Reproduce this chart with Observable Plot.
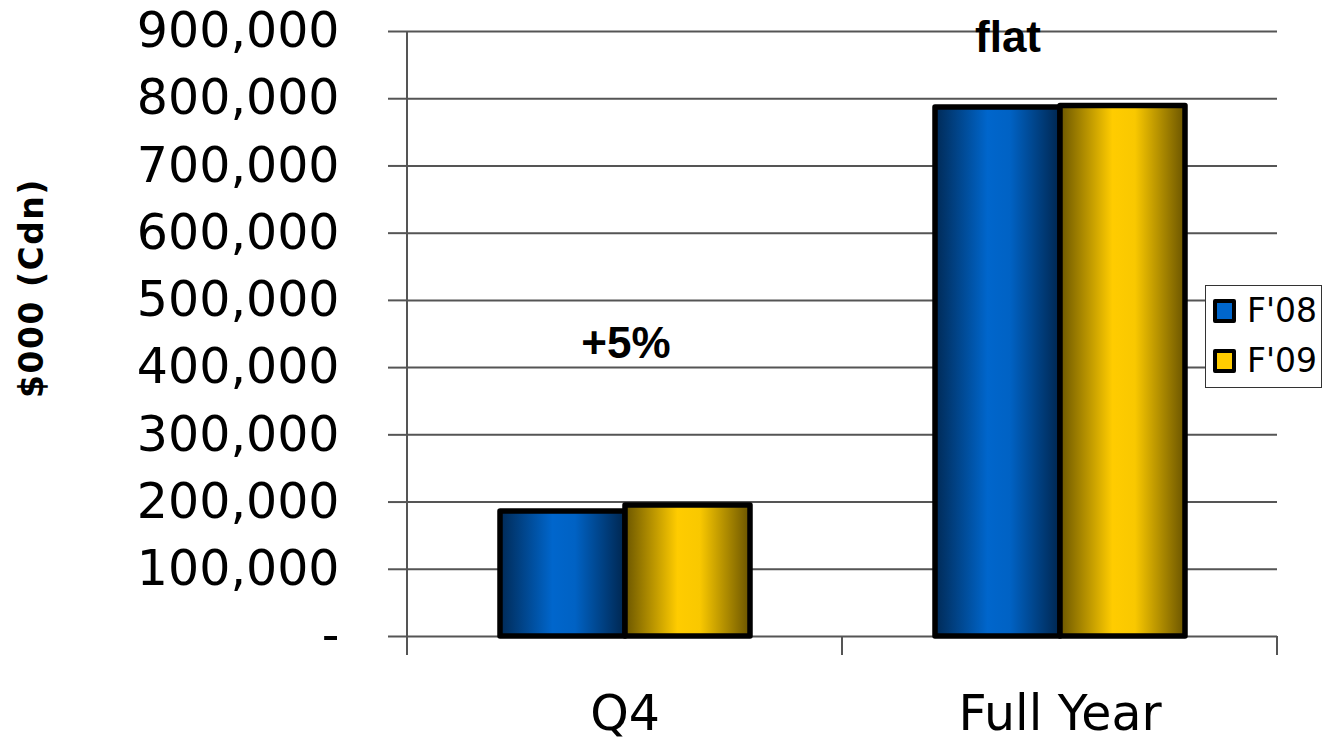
<!DOCTYPE html>
<html>
<head>
<meta charset="utf-8">
<script src="https://cdn.jsdelivr.net/npm/d3@7"></script>
<script src="https://cdn.jsdelivr.net/npm/@observablehq/plot@0.6"></script>
<style>
  html, body { margin: 0; padding: 0; background: white; }
  #wrap { position: relative; width: 1322px; height: 742px; overflow: hidden; background: white; }
  #ytitle { position: absolute; left: 31px; top: 288px; transform: translate(-50%, -50%) rotate(-90deg);
    white-space: nowrap; font-family: "DejaVu Sans", sans-serif; font-weight: bold; font-size: 33px; letter-spacing: 1.5px; color: black; }
  #legend { position: absolute; left: 1205px; top: 285px; width: 117px; height: 103px; box-sizing: border-box;
    border: 1px solid #333; background: white; }
  .lrow { position: absolute; left: 7px; height: 24px; display: flex; align-items: center; }
  .sw { width: 23px; height: 24px; box-sizing: border-box; border: 4px solid black; border-radius: 2px; }
  .lt { margin-left: 11px; font-family: "DejaVu Sans", sans-serif; font-size: 33px; color: black; line-height: 24px; }
</style>
</head>
<body>
<div id="wrap">
  <div id="chart"></div>
  <div id="ytitle"></div>
  <div id="legend"></div>
</div>
<script>
// ---- data ----
const categories = ["Q4", "Full Year"];
const series = ["F'08", "F'09"];
const valuesF08 = [186000, 787000];
const valuesF09 = [195000, 789000];
const yTicks = [0, 100000, 200000, 300000, 400000, 500000, 600000, 700000, 800000, 900000];
const yTitle = "$000 (Cdn)";
const annotationLabels = ["+5%", "flat"];
const annotationValues = [436000, 890000];
const seriesColors = ["#0066cc", "#ffcc00"];

const rows = categories.flatMap((c, i) => [
  {category: c, series: series[0], value: valuesF08[i]},
  {category: c, series: series[1], value: valuesF09[i]}
]);
const annotations = categories.map((c, i) => ({category: c, label: annotationLabels[i], value: annotationValues[i]}));

const gridColor = "#555";

const plot = Plot.plot({
  width: 1322,
  height: 742,
  marginLeft: 406,
  marginRight: 45,
  marginTop: 31,
  marginBottom: 106,
  style: {fontFamily: "DejaVu Sans, sans-serif", background: "white", color: "black"},
  fx: {domain: categories, padding: 0, label: null},
  x: {domain: series, paddingInner: 0, paddingOuter: 0.728, axis: null},
  y: {domain: [0, 900000], axis: null},
  marks: [
    Plot.ruleY(yTicks, {stroke: gridColor, strokeWidth: 2}),
    Plot.axisY({
      ticks: yTicks,
      tickSize: 19,
      tickPadding: 49,
      tickFormat: d => d === 0 ? "-" : d3.format(",")(d),
      fontSize: 49,
      stroke: gridColor,
      strokeWidth: 2,
      fill: "black",
      label: null
    }),
    Plot.axisFx({anchor: "bottom", tickSize: 0, tickPadding: 59, fontSize: 49, fill: "black", label: null}),
    Plot.barY(rows, {
      fx: "category",
      x: "series",
      y: "value",
      fill: d => d.series === series[0] ? "url(#gradF08)" : "url(#gradF09)",
      stroke: "black",
      strokeWidth: 5.5,
      strokeLinejoin: "round"
    }),
    Plot.text(annotations.slice(0, 1), {
      fx: "category", y: "value", text: "label", dx: 1,
      fontFamily: "Liberation Sans, Arial, sans-serif", fontWeight: "bold", fontSize: 44, fill: "black"
    }),
    Plot.text(annotations.slice(1), {
      fx: "category", y: "value", text: "label", dx: -52,
      fontFamily: "Liberation Sans, Arial, sans-serif", fontWeight: "bold", fontSize: 44, fill: "black"
    })
  ]
});

document.getElementById("chart").append(plot);

// gradients for the bars
const svg = d3.select(plot);
const defs = svg.insert("defs", ":first-child");
function grad(id, stops) {
  const g = defs.append("linearGradient").attr("id", id).attr("x1", 0).attr("x2", 1).attr("y1", 0).attr("y2", 0);
  stops.forEach(([o, c]) => g.append("stop").attr("offset", o).attr("stop-color", c));
}
grad("gradF08", [[0, "#012a56"], [0.42, "#0066cc"], [0.6, "#0062c4"], [1, "#00264f"]]);
grad("gradF09", [[0, "#6b5600"], [0.42, "#ffcc00"], [0.6, "#f9c800"], [1, "#6a5400"]]);

// axis line and category separators derived from the scales
const fx = plot.scale("fx");
const y = plot.scale("y");
const y0 = y.apply(0);
const yTop = y.apply(yTicks[yTicks.length - 1]);
const bw = fx.bandwidth;
const edges = categories.map(c => fx.apply(c)).concat([fx.apply(categories[categories.length - 1]) + bw]);
const g = svg.append("g").attr("stroke", gridColor).attr("stroke-width", 2);
g.append("line").attr("x1", edges[0]).attr("x2", edges[0]).attr("y1", yTop).attr("y2", y0 + 19);
edges.slice(1).forEach(x => g.append("line").attr("x1", x).attr("x2", x).attr("y1", y0).attr("y2", y0 + 19));

// y title
document.getElementById("ytitle").textContent = yTitle;

// legend
const legend = document.getElementById("legend");
series.forEach((s, i) => {
  const row = document.createElement("div");
  row.className = "lrow";
  row.style.top = (13 + i * 50) + "px";
  const sw = document.createElement("div");
  sw.className = "sw";
  sw.style.background = seriesColors[i];
  const t = document.createElement("span");
  t.className = "lt";
  t.textContent = s;
  row.append(sw, t);
  legend.append(row);
});
</script>
</body>
</html>
